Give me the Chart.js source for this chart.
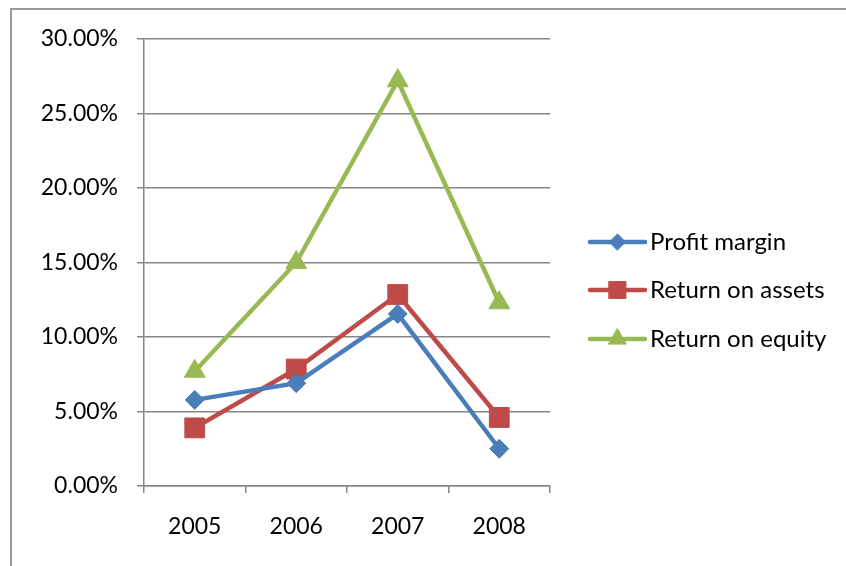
<!DOCTYPE html>
<html>
<head>
<meta charset="utf-8">
<script src="https://cdn.jsdelivr.net/npm/chart.js@4/dist/chart.umd.min.js"></script>
<style>
  html, body { margin: 0; padding: 0; background: #fff; overflow: hidden; }
  #frame { position: absolute; left: 10px; top: 8px; width: 900px; height: 600px;
           border-left: 2px solid #9a9a9a; border-top: 2px solid #9a9a9a; }
  #wrap { position: absolute; left: 0; top: 0; width: 846px; height: 566px; }
</style>
</head>
<body>
<div id="frame"></div>
<div id="wrap"><canvas id="c" width="846" height="566"></canvas></div>
<script>
// Financial ratios by year (percent)
const years = ['2005', '2006', '2007', '2008'];
const profitMargin = [5.78, 6.9, 11.55, 2.5];
const returnOnAssets = [3.9, 7.85, 12.85, 4.6];
const returnOnEquity = [7.7, 15.0, 27.2, 12.3];
const seriesNames = ['Profit margin', 'Return on assets', 'Return on equity'];
const yTicks = [0, 5, 10, 15, 20, 25, 30];

const FONT = 'Lato, "Open Sans", sans-serif';
const AXIS_GRAY = '#868686';

// Legend drawn to the right of the plot: a line sample with the series marker
const lineLegend = {
  id: 'lineLegend',
  afterDraw(chart) {
    const ctx = chart.ctx;
    const area = chart.chartArea;
    const x0 = area.right + 40;
    const x1 = x0 + 55;
    const rowY = [242, 290, 339];
    chart.data.datasets.forEach((ds, i) => {
      const y = rowY[i];
      ctx.save();
      ctx.strokeStyle = ds.borderColor;
      ctx.lineWidth = ds.borderWidth;
      ctx.lineCap = 'round';
      ctx.beginPath();
      ctx.moveTo(x0, y);
      ctx.lineTo(x1, y);
      ctx.stroke();
      ctx.fillStyle = ds.pointBackgroundColor;
      ctx.strokeStyle = ds.pointBorderColor;
      ctx.lineWidth = 1;
      Chart.helpers.drawPoint(ctx, {
        pointStyle: ds.pointStyle, radius: ds.pointRadius * 0.85, borderWidth: 1
      }, (x0 + x1) / 2, y);
      ctx.fillStyle = '#000';
      ctx.font = '24px ' + FONT;
      ctx.textAlign = 'left';
      ctx.textBaseline = 'middle';
      ctx.fillText(ds.label, x1 + 5, y);
      ctx.restore();
    });
  }
};

function series(label, data, color, style, radius) {
  return {
    label, data,
    borderColor: color,
    backgroundColor: color,
    borderWidth: 4.5,
    pointStyle: style,
    pointRadius: radius,
    pointHoverRadius: radius,
    pointBackgroundColor: color,
    pointBorderColor: color,
    pointBorderWidth: 1,
    tension: 0
  };
}

new Chart(document.getElementById('c'), {
  type: 'line',
  data: {
    labels: years,
    datasets: [
      series(seriesNames[0], profitMargin, '#4A7EBB', 'rectRot', 9.5),
      series(seriesNames[1], returnOnAssets, '#BE4B48', 'rect', 14),
      series(seriesNames[2], returnOnEquity, '#98B954', 'triangle', 12)
    ]
  },
  options: {
    responsive: false,
    animation: false,
    events: [],
    layout: { padding: { left: 0, top: 39, right: 296, bottom: 0 } },
    plugins: { legend: { display: false }, tooltip: { enabled: false } },
    scales: {
      x: {
        offset: true,
        grid: { offset: true, drawOnChartArea: false, drawTicks: true,
                tickLength: 7, color: AXIS_GRAY, lineWidth: 1.5 },
        border: { color: AXIS_GRAY, width: 1.5 },
        ticks: { color: '#000', font: { family: FONT, size: 23 }, padding: 20,
                 maxRotation: 0 },
        afterFit(scale) { scale.height = 80; }
      },
      y: {
        min: 0, max: 30,
        afterBuildTicks(scale) { scale.ticks = yTicks.map(v => ({ value: v })); },
        grid: { color: AXIS_GRAY, lineWidth: 1.5, tickLength: 7, drawTicks: true },
        border: { color: AXIS_GRAY, width: 1.5 },
        ticks: { color: '#000', font: { family: FONT, size: 23 }, padding: 19,
                 callback: v => v.toFixed(2) + '%' },
        afterFit(scale) { scale.width = 144; }
      }
    }
  },
  plugins: [lineLegend]
});
</script>
</body>
</html>
